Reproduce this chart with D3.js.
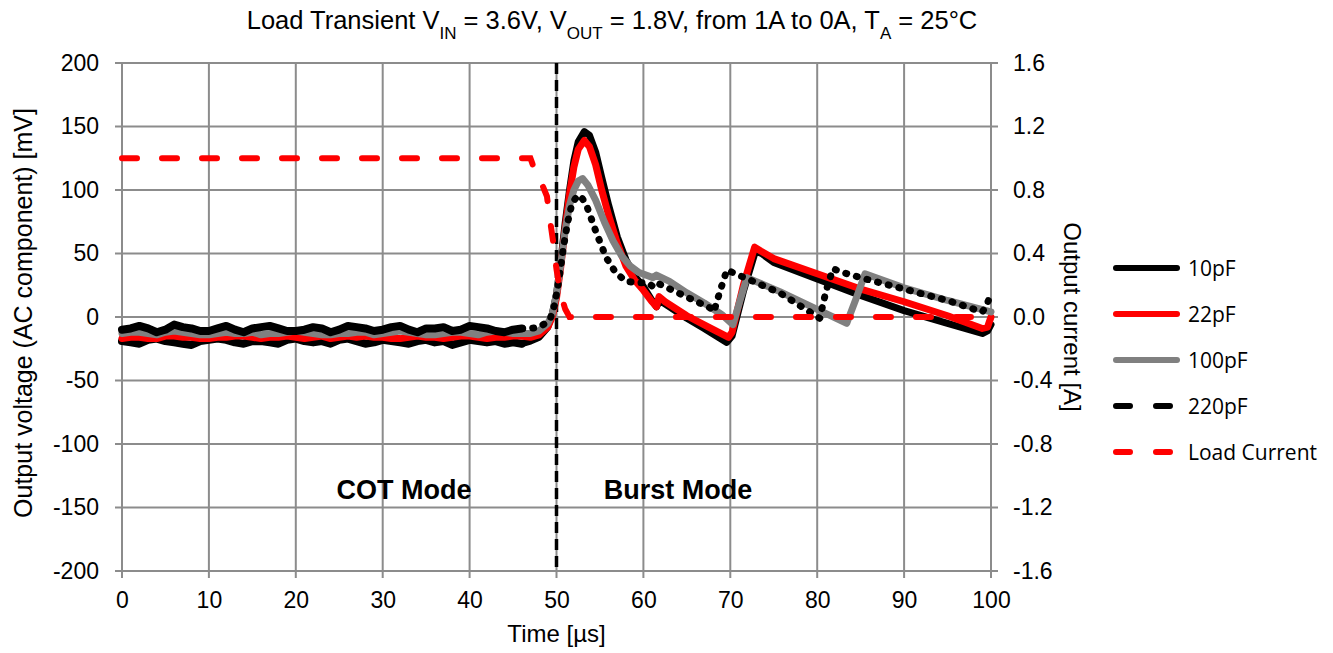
<!DOCTYPE html>
<meta charset="utf-8">
<script src="https://d3js.org/d3.v7.min.js"></script>
<style>
  body { margin: 0; background: #fff; }
  text { font-family: "Liberation Sans", Arial, sans-serif; fill: #000; }
</style>
<div id="chart"></div>
<script>
// ---- data ----
const xTicks = [0, 10, 20, 30, 40, 50, 60, 70, 80, 90, 100];
const yLeftTicks = [-200, -150, -100, -50, 0, 50, 100, 150, 200];
const yRightTicks = [-1.6, -1.2, -0.8, -0.4, 0.0, 0.4, 0.8, 1.2, 1.6];

// flat (COT) part, every 1 us
const flatTime = [0,1,2,3,4,5,6,7,8,9,10,11,12,13,14,15,16,17,18,19,20,21,22,23,24,25,26,27,28,29,30,31,32,33,34,35,36,37,38,39,40,41,42,43,44,45,46];
const flat10 = [-19,-20,-21,-18,-17,-19,-20,-21,-22,-19,-18,-17,-18,-20,-21,-19,-19,-20,-21,-18,-17,-19,-20,-19,-21,-18,-17,-19,-21,-20,-18,-19,-20,-21,-19,-18,-20,-19,-22,-20,-18,-19,-20,-19,-21,-20,-21];
const flat22 = [-17,-16,-16,-17,-17,-15,-15,-16,-16,-17,-17,-16,-16,-15,-15,-16,-17,-16,-16,-15,-16,-17,-16,-15,-17,-16,-15,-16,-15,-16,-16,-17,-17,-16,-15,-16,-16,-17,-16,-15,-15,-16,-17,-16,-16,-15,-15];
const flat100 = [-13,-12,-12,-13,-14,-12,-11,-12,-13,-14,-14,-13,-12,-13,-13,-12,-14,-13,-13,-12,-11,-12,-13,-14,-14,-13,-13,-12,-12,-14,-13,-12,-11,-12,-13,-14,-14,-13,-12,-12,-13,-14,-12,-11,-12,-13,-13];
const flat220 = [-10,-9,-7,-9,-12,-10,-6,-8,-9,-11,-11,-9,-7,-10,-12,-9,-8,-7,-9,-11,-11,-10,-8,-9,-12,-10,-7,-8,-9,-11,-10,-8,-7,-10,-12,-9,-9,-8,-11,-10,-7,-8,-9,-11,-12,-10,-9];

// burst part
const t10 = [46, 47, 48, 49, 49.5, 50, 50.5, 51, 51.5, 52, 52.5, 53.2, 53.8, 54.5, 55.2, 56, 57, 58, 59, 60, 61, 61.5, 61.9, 63, 65, 67, 69.6, 70.2, 71.5, 72.9, 73.6, 75, 80, 85, 90, 95, 99, 99.6, 100];
const v10 = [-21, -19, -16, -8, 2, 18, 44, 74, 100, 123, 138, 146, 143, 130, 110, 88, 63, 45, 32, 24, 13, 8, 13, 8, -1, -9, -20, -15, 20, 52, 50, 43, 30, 17, 5, -5, -13, -11, -6];
const t22 = [46, 47, 48, 49, 49.5, 50, 50.5, 51, 51.5, 52, 52.5, 53.2, 53.8, 54.5, 55.2, 56, 57, 58, 59, 60, 61, 61.5, 61.8, 62.5, 65, 67.5, 69.8, 70.2, 71.5, 72.8, 73.5, 75, 80, 85, 90, 95, 99, 99.6, 100];
const v22 = [-15, -16, -14, -8, 0, 15, 40, 70, 97, 118, 132, 139, 134, 120, 100, 80, 58, 40, 29, 21, 12, 8, 16, 12, 1, -8, -16, -12, 25, 55, 52, 46, 34, 22, 12, 1, -9, -8, 0];
const t100 = [46, 47, 48, 49, 49.5, 50, 50.5, 51, 51.5, 52, 52.5, 53, 53.6, 54.5, 55.5, 56.5, 57.5, 58.5, 59.5, 61.1, 61.5, 63, 65, 67, 69, 70.3, 71.2, 71.9, 75.7, 80, 83.4, 84.5, 85.5, 90, 95, 100];
const v100 = [-13, -13, -11, -5, 2, 18, 42, 68, 88, 100, 107, 109, 104, 92, 75, 60, 48, 40, 35, 31, 33, 28, 19, 11, 2, -6, 15, 31, 20, 6, -5, 15, 34, 23, 13, 4];
const t220 = [46, 47, 48, 48.7, 49.3, 49.8, 50.3, 50.8, 51.3, 51.8, 52.5, 53, 53.5, 54.6, 55.7, 56.8, 58, 59.5, 60.5, 61.1, 61.5, 64, 67.7, 68.1, 68.8, 69.6, 75.7, 80.3, 81, 81.8, 83, 85, 90, 95, 99, 99.5, 100];
const v220 = [-9, -9, -8, -5, -1, 10, 30, 55, 75, 90, 96, 93, 87, 66, 47, 35, 28, 27, 27, 24, 27, 19, 7, 4, 20, 37, 19, -1, 20, 38, 35, 31, 22, 13, 4, 9, 19];

const loadTime = [0, 47.0, 47.2, 47.6, 48.3, 48.9, 49.2, 49.6, 50.0, 50.5, 51.0, 51.5, 100];
const loadAmps = [1.0, 1.0, 0.97, 0.9, 0.84, 0.76, 0.63, 0.48, 0.3, 0.14, 0.05, 0.0, 0.0];

const seriesNames = ["10pF", "22pF", "100pF", "220pF", "Load Current"];
const seriesColors = ["#000000", "#ff0000", "#808080", "#000000", "#ff0000"];

// ---- layout ----
const W = 1333, H = 653;
const pLeft = 122, pRight = 991, pTop = 63, pBottom = 571;

const svg = d3.select("#chart").append("svg")
  .attr("width", W).attr("height", H);

const x = d3.scaleLinear().domain([0, 100]).range([pLeft, pRight]);
const yL = d3.scaleLinear().domain([-200, 200]).range([pBottom, pTop]);
const yR = d3.scaleLinear().domain([-1.6, 1.6]).range([pBottom, pTop]);

// grid
svg.append("g").selectAll("line").data(yLeftTicks).join("line")
  .attr("x1", pLeft - 7).attr("x2", pRight + 7)
  .attr("y1", d => yL(d)).attr("y2", d => yL(d))
  .attr("stroke", "#8c8c8c").attr("stroke-width", 2);
svg.append("g").selectAll("line").data(xTicks).join("line")
  .attr("x1", d => x(d)).attr("x2", d => x(d))
  .attr("y1", pTop).attr("y2", pBottom + 7)
  .attr("stroke", "#8c8c8c").attr("stroke-width", 2);

// axes (labels only) - plain hyphen minus like the original
const axL = svg.append("g").attr("transform", `translate(${pLeft - 7},0)`)
  .call(d3.axisLeft(yL).tickValues(yLeftTicks).tickSize(0).tickPadding(16)
    .tickFormat(d => String(d)));
const axR = svg.append("g").attr("transform", `translate(${pRight + 7},0)`)
  .call(d3.axisRight(yR).tickValues(yRightTicks).tickSize(0).tickPadding(15)
    .tickFormat(d => d.toFixed(1)));
const axB = svg.append("g").attr("transform", `translate(0,${pBottom + 7})`)
  .call(d3.axisBottom(x).tickValues(xTicks).tickSize(0).tickPadding(14));
[axL, axR, axB].forEach(a => {
  a.select(".domain").remove();
  a.selectAll("text").style("font-size", "23px").style("font-family", '"Liberation Sans", Arial, sans-serif');
});

// mode divider at 50 us
svg.append("line")
  .attr("x1", x(50)).attr("x2", x(50)).attr("y1", pTop).attr("y2", pBottom)
  .attr("stroke", "#000").attr("stroke-width", 3.5).attr("stroke-dasharray", "11,6");

// series
const lineL = d3.line().x(d => x(d[0])).y(d => yL(d[1]));
const lineR = d3.line().x(d => x(d[0])).y(d => yR(d[1]));
const zip = (a, b) => a.map((v, i) => [v, b[i]]);

// flat parts (dense noisy data reads as a solid band, even for the dashed one)
const curves = [
  {pts: zip(flatTime, flat10), color: seriesColors[0], dash: null, w: 8},
  {pts: zip(t10, v10), color: seriesColors[0], dash: null, w: 7},
  {pts: zip(flatTime, flat22), color: seriesColors[1], dash: null, w: 7},
  {pts: zip(t22, v22), color: seriesColors[1], dash: null, w: 7},
  {pts: zip(flatTime, flat100), color: seriesColors[2], dash: null, w: 7},
  {pts: zip(t100, v100), color: seriesColors[2], dash: null, w: 7},
  {pts: zip(flatTime, flat220), color: seriesColors[3], dash: null, w: 8},
  {pts: zip(t220, v220), color: seriesColors[3], dash: "1,10", w: 7}
];
curves.forEach(c => {
  svg.append("path").datum(c.pts)
    .attr("d", lineL)
    .attr("fill", "none")
    .attr("stroke", c.color)
    .attr("stroke-width", c.w)
    .attr("stroke-linejoin", "round")
    .attr("stroke-linecap", "round")
    .attr("stroke-dasharray", c.dash);
});

svg.append("path").datum(zip(loadTime, loadAmps))
  .attr("d", lineR)
  .attr("fill", "none")
  .attr("stroke", seriesColors[4])
  .attr("stroke-width", 6)
  .attr("stroke-linecap", "round")
  .attr("stroke-dasharray", "15,25");

// mode labels
svg.append("text").attr("x", 404).attr("y", 499).attr("text-anchor", "middle")
  .style("font-size", "27px").style("font-weight", "bold").text("COT Mode");
svg.append("text").attr("x", 678).attr("y", 499).attr("text-anchor", "middle")
  .style("font-size", "27px").style("font-weight", "bold").text("Burst Mode");

// title
const title = svg.append("text").attr("x", 612).attr("y", 29).attr("text-anchor", "middle")
  .style("font-size", "25.5px");
title.append("tspan").text("Load Transient V");
title.append("tspan").attr("baseline-shift", "sub").style("font-size", "17px").text("IN");
title.append("tspan").text(" = 3.6V, V");
title.append("tspan").attr("baseline-shift", "sub").style("font-size", "17px").text("OUT");
title.append("tspan").text(" = 1.8V, from 1A to 0A, T");
title.append("tspan").attr("baseline-shift", "sub").style("font-size", "17px").text("A");
title.append("tspan").text(" = 25°C");

// axis titles
svg.append("text").attr("transform", `translate(${x(50)},642)`).attr("text-anchor", "middle")
  .style("font-size", "24px").text("Time [µs]");
svg.append("text").attr("transform", `translate(32,${(pTop + pBottom) / 2 - 4}) rotate(-90)`)
  .attr("text-anchor", "middle").style("font-size", "25px")
  .text("Output voltage (AC component) [mV]");
svg.append("text").attr("transform", `translate(1064,${(pTop + pBottom) / 2}) rotate(90)`)
  .attr("text-anchor", "middle").style("font-size", "24px")
  .text("Output current [A]");

// legend
const legendDash = [null, null, null, "14,26", "14,26"];
const lg = svg.append("g").selectAll("g").data(seriesNames).join("g")
  .attr("transform", (d, i) => `translate(1113,${268 + i * 46})`);
lg.append("line").attr("x1", 3).attr("x2", 64).attr("y1", 0).attr("y2", 0)
  .attr("stroke", (d, i) => seriesColors[i]).attr("stroke-width", 6)
  .attr("stroke-linecap", "round")
  .attr("stroke-dasharray", (d, i) => legendDash[i]);
lg.append("text").attr("x", 75).attr("y", 8)
  .style("font-family", '"Open Sans", "Liberation Sans", sans-serif')
  .style("font-size", "21px").text(d => d);
</script>
